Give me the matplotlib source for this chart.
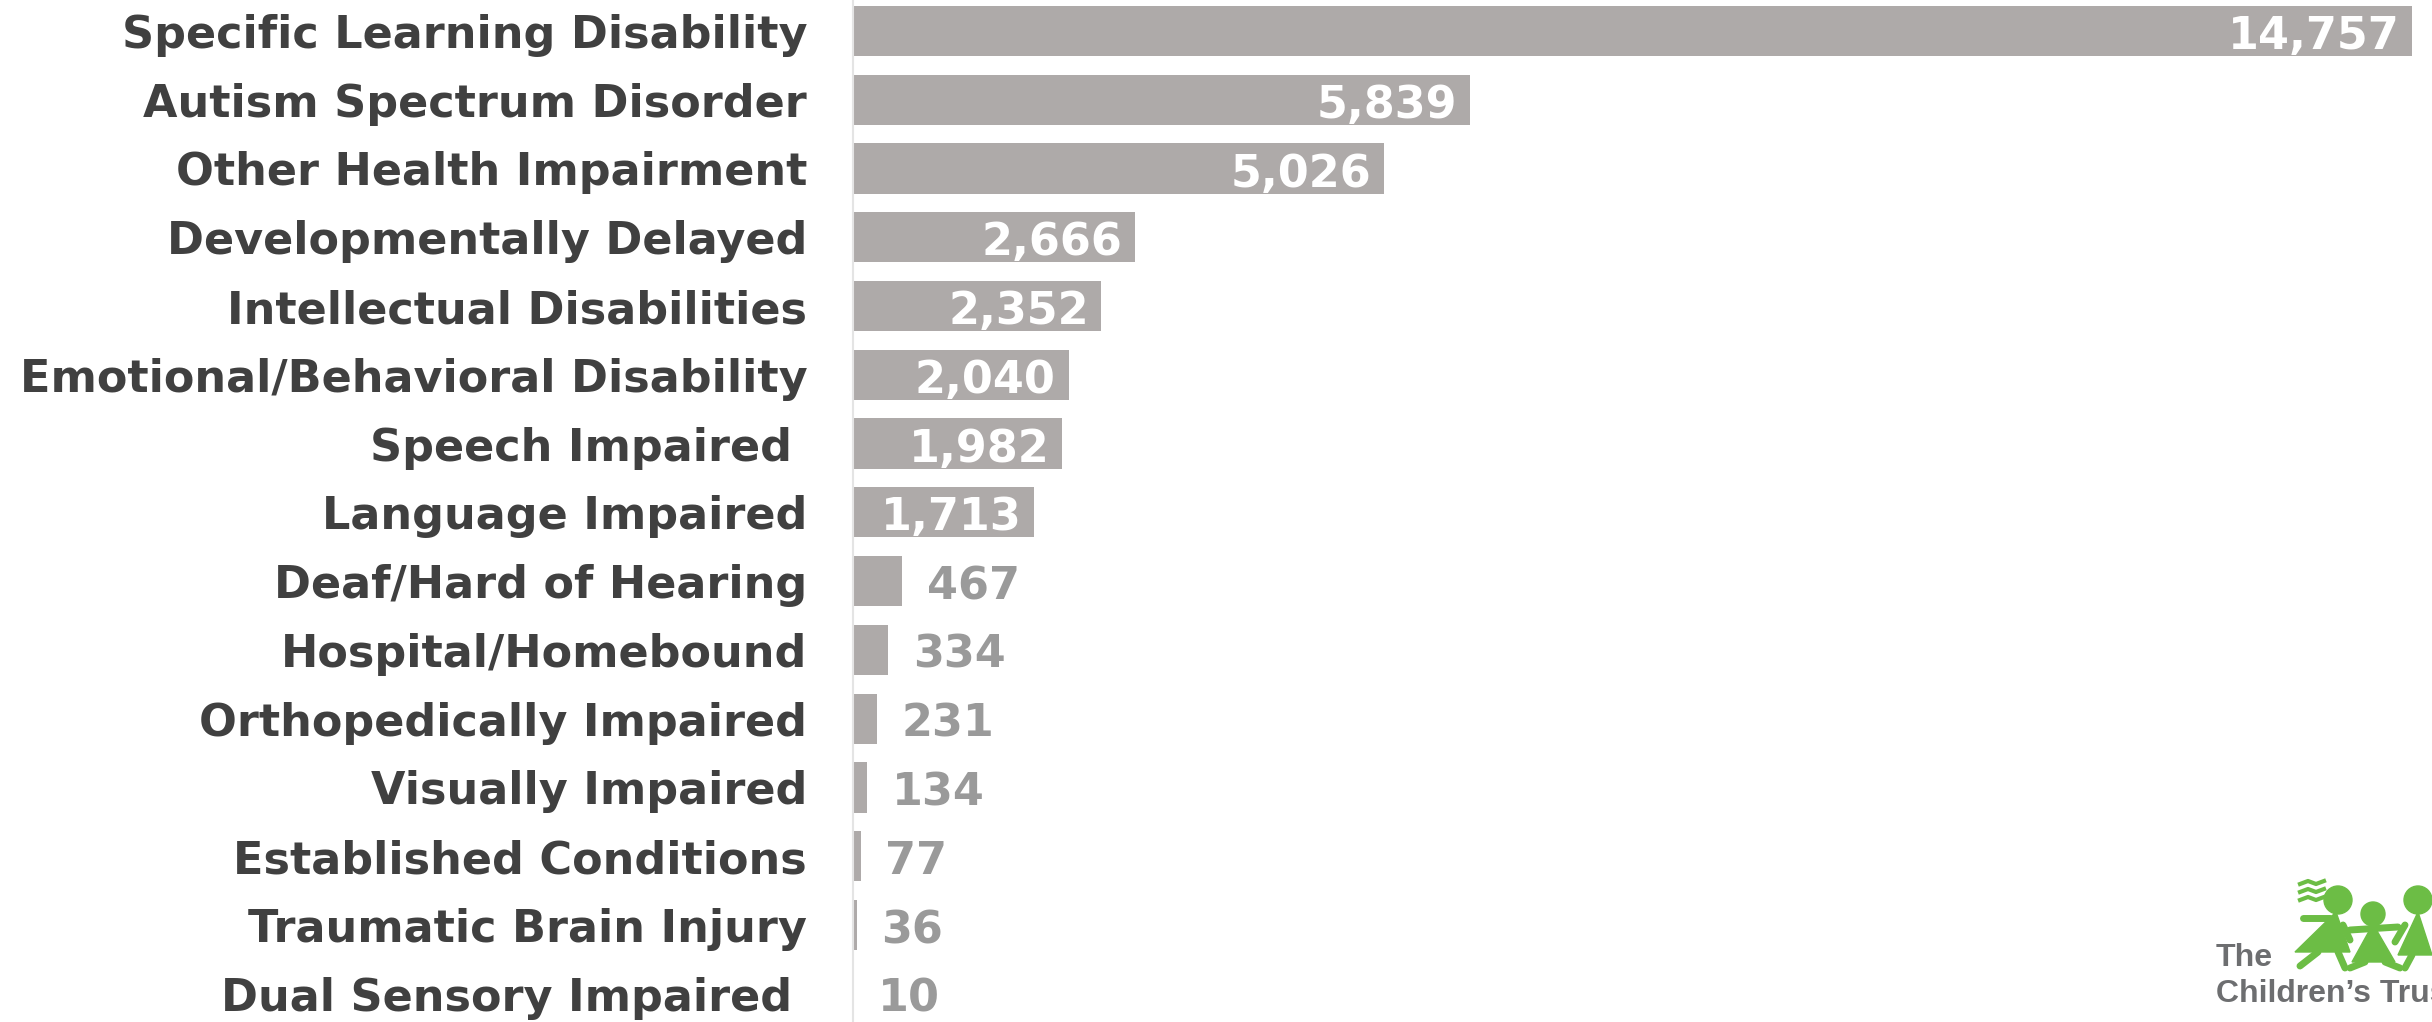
import matplotlib
matplotlib.use("Agg")
import matplotlib.pyplot as plt
from matplotlib.patches import Ellipse, Polygon
from matplotlib.lines import Line2D

categories = [
    "Specific Learning Disability",
    "Autism Spectrum Disorder",
    "Other Health Impairment",
    "Developmentally Delayed",
    "Intellectual Disabilities",
    "Emotional/Behavioral Disability",
    "Speech Impaired ",
    "Language Impaired",
    "Deaf/Hard of Hearing",
    "Hospital/Homebound",
    "Orthopedically Impaired",
    "Visually Impaired",
    "Established Conditions",
    "Traumatic Brain Injury",
    "Dual Sensory Impaired ",
]
counts = [14757, 5839, 5026, 2666, 2352, 2040, 1982, 1713, 467, 334, 231, 134, 77, 36, 10]

bar_color = "#aeaaa9"
label_color = "#404040"
outside_color = "#9a9a9a"
green = "#6cbd45"

W, H = 2432, 1022
fig = plt.figure(figsize=(W / 100, H / 100), dpi=100)
ax = fig.add_axes([853 / W, 0, 1 - 853 / W, 1])

ypos = list(range(len(categories)))
ax.barh(ypos, counts, height=0.73, color=bar_color)
ax.set_xlim(0, 14946)
ax.set_ylim(14.41, -0.45)

for spine in ["top", "right", "bottom"]:
    ax.spines[spine].set_visible(False)
ax.spines["left"].set_color("#e4e4e4")
ax.spines["left"].set_linewidth(1.5)
ax.set_xticks([])
ax.set_yticks(ypos)
ax.set_yticklabels(categories, fontsize=32, fontweight="bold", color=label_color)
ax.tick_params(axis="y", length=0, pad=33)

for y, v in zip(ypos, counts):
    txt = f"{v:,}"
    if v > 1000:
        ax.text(v - 120, y + 0.08, txt, ha="right", va="center", fontsize=32,
                fontweight="bold", color="white")
    else:
        ax.text(v + 230, y + 0.08, txt, ha="left", va="center", fontsize=32,
                fontweight="bold", color=outside_color)

# logo, roughly (the reference crops it at the right edge)
def fx(px):
    return px / W

def fy(py):
    return 1 - py / H

logo_font = dict(family="Liberation Sans", fontsize=23, fontweight="bold", color="#6d6e70",
                 va="center")
fig.text(fx(2216), fy(958), "The", **logo_font)
fig.text(fx(2216), fy(994), "Children\u2019s Trust", **logo_font)
for cx, cy, r in [(2338, 900, 14), (2373, 914, 12), (2418, 900, 14)]:
    fig.patches.append(Ellipse((fx(cx), fy(cy)), 2 * r / W, 2 * r / H, color=green,
                               transform=fig.transFigure))
for pts in [[(2336, 912), (2295, 952), (2350, 952)],
            [(2373, 924), (2352, 962), (2395, 962)],
            [(2418, 912), (2398, 955), (2432, 955)]]:
    fig.patches.append(Polygon([(fx(a), fy(b)) for a, b in pts], closed=True, color=green,
                               transform=fig.transFigure))
for seg in [[(2303, 918), (2330, 918)], [(2343, 925), (2350, 940)], [(2350, 930), (2398, 927)],
            [(2318, 952), (2300, 966)], [(2338, 952), (2345, 968)],
            [(2365, 962), (2350, 968)], [(2385, 962), (2400, 968)],
            [(2405, 925), (2395, 942)], [(2412, 955), (2405, 968)]]:
    fig.lines.append(Line2D([fx(seg[0][0]), fx(seg[1][0])], [fy(seg[0][1]), fy(seg[1][1])],
                            color=green, linewidth=5, solid_capstyle="round",
                            transform=fig.transFigure))
for wy in [884, 892, 900]:
    fig.lines.append(Line2D([fx(2300), fx(2308), fx(2316), fx(2324)],
                            [fy(wy), fy(wy - 3), fy(wy), fy(wy - 3)], color=green,
                            linewidth=3, transform=fig.transFigure))

fig.savefig("out.png", dpi=100)
